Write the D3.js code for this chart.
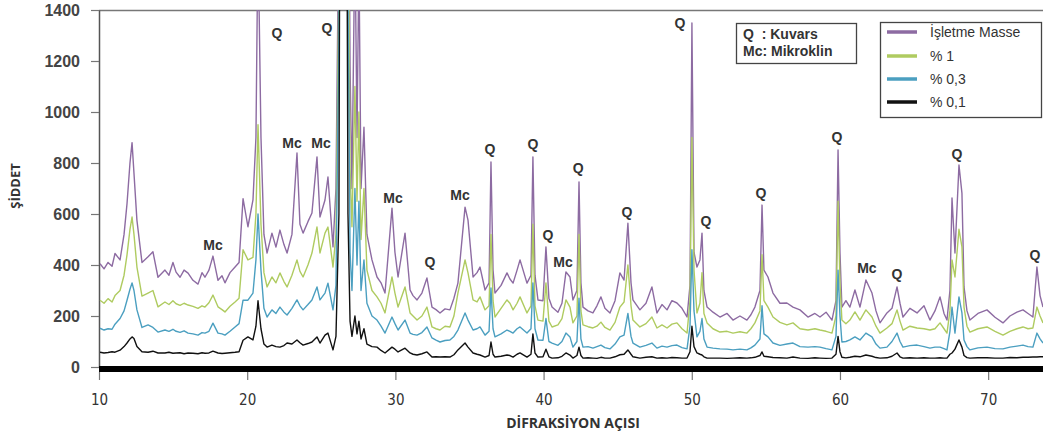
<!DOCTYPE html>
<html>
<head>
<meta charset="utf-8">
<script src="https://cdn.jsdelivr.net/npm/d3@7"></script>
<style>
body { margin: 0; background: #fff; }
svg { display: block; }
</style>
</head>
<body>
<svg id="chart" width="1043" height="434"></svg>
<script>
// diffraction angle (2 theta) of each sample point
var angles = [
  10.07, 10.34, 10.61, 10.88, 11.08, 11.42, 11.69, 11.89, 12.09, 12.23,
  12.36, 12.56, 12.90, 13.31, 13.64, 13.98, 14.45, 14.72, 14.99, 15.20,
  15.47, 15.74, 16.01, 16.34, 16.68, 16.95, 17.15, 17.42, 17.69, 18.03,
  18.30, 18.50, 18.84, 19.18, 19.45, 19.72, 20.05, 20.39, 20.59, 20.73,
  20.93, 21.13, 21.34, 21.67, 21.94, 22.21, 22.48, 22.69, 23.02, 23.36,
  23.56, 23.77, 24.10, 24.37, 24.71, 24.91, 25.25, 25.45, 25.79, 25.99,
  26.19, 26.40, 26.60, 26.80, 26.94, 27.07, 27.27, 27.41, 27.54, 27.68,
  27.88, 28.08, 28.42, 28.76, 29.03, 29.30, 29.77, 29.97, 30.18, 30.65,
  30.99, 31.19, 31.46, 31.79, 32.13, 32.47, 32.74, 33.01, 33.35, 33.68,
  33.95, 34.22, 34.70, 34.90, 35.24, 35.51, 35.71, 36.05, 36.32, 36.45,
  36.59, 36.72, 37.13, 37.53, 37.73, 37.94, 38.21, 38.41, 38.88, 39.15,
  39.28, 39.42, 39.62, 39.96, 40.16, 40.36, 40.57, 40.97, 41.24, 41.51,
  41.78, 41.98, 42.25, 42.39, 42.52, 42.66, 43.00, 43.33, 43.60, 43.87,
  44.14, 44.48, 44.82, 45.15, 45.43, 45.69, 45.90, 46.03, 46.50, 46.91,
  47.31, 47.65, 47.99, 48.33, 48.66, 49.00, 49.34, 49.68, 49.88, 50.01,
  50.15, 50.35, 50.55, 50.69, 50.82, 51.03, 51.43, 51.90, 52.38, 52.78,
  53.25, 53.72, 53.99, 54.26, 54.60, 54.74, 54.87, 55.14, 55.48, 55.95,
  56.42, 56.83, 57.30, 57.84, 58.31, 58.65, 59.06, 59.46, 59.73, 59.87,
  60.00, 60.13, 60.40, 60.67, 61.01, 61.35, 61.75, 62.16, 62.43, 62.70,
  63.17, 63.51, 63.85, 64.05, 64.25, 64.72, 65.20, 65.67, 66.07, 66.41,
  66.75, 67.02, 67.22, 67.42, 67.56, 67.76, 68.03, 68.23, 68.37, 68.57,
  68.77, 69.31, 69.92, 70.46, 71.00, 71.47, 71.94, 72.35, 72.69, 73.02,
  73.29, 73.50, 73.70
];

var isletmeMasse = [
  405, 385, 410, 395, 445, 420, 520, 640, 800, 880,
  760, 575, 410, 432, 452, 352, 380, 360, 410, 372,
  352, 380, 368, 340, 325, 370, 352, 380, 435, 340,
  358, 330, 370, 392, 410, 660, 550, 655, 900, 1700,
  900, 520, 447, 525, 470, 537, 480, 447, 520, 839,
  560, 525, 570, 604, 824, 588, 655, 745, 471, 700,
  1800, 9000, 8000, 2500, 1180, 700, 1700, 900, 1600, 700,
  940, 520, 420, 353, 330, 290, 623, 450, 353, 525,
  302, 280, 263, 290, 349, 235, 225, 212, 228, 224,
  270, 329, 627, 576, 353, 370, 392, 302, 330, 804,
  380, 290, 320, 369, 345, 329, 380, 420, 329, 360,
  824, 360, 263, 260, 471, 270, 235, 215, 250, 373,
  353, 263, 300, 726, 330, 235, 220, 212, 240, 275,
  230, 212, 260, 369, 341, 564, 330, 263, 224, 250,
  314, 212, 245, 224, 260, 251, 230, 196, 320, 1349,
  450, 392, 420, 525, 300, 235, 215, 196, 210, 184,
  200, 184, 205, 235, 300, 635, 380, 353, 290, 250,
  251, 235, 224, 196, 210, 196, 215, 184, 260, 851,
  450, 235, 260, 235, 302, 235, 341, 290, 220, 173,
  212, 230, 314, 250, 196, 230, 212, 240, 184, 220,
  275, 210, 184, 300, 663, 447, 792, 682, 314, 220,
  184, 210, 224, 195, 173, 200, 215, 224, 210, 196,
  392, 280, 235
];

var yuzde1 = [
  262, 250, 268, 255, 280, 300, 360, 440, 540, 588,
  520, 392, 278, 290, 300, 236, 255, 245, 260, 248,
  242, 250, 243, 238, 230, 240, 235, 252, 282, 236,
  225, 216, 238, 255, 270, 460, 420, 430, 600, 950,
  560, 370, 314, 353, 330, 369, 335, 314, 360, 420,
  375, 353, 400, 447, 549, 447, 525, 549, 392, 520,
  1500, 8000, 7000, 2000, 780, 550, 1100, 650, 1000, 500,
  700, 380, 300, 275, 250, 212, 353, 290, 235, 314,
  212, 200, 184, 200, 235, 157, 150, 145, 160, 157,
  200, 290, 420, 369, 263, 255, 275, 224, 240, 520,
  260, 196, 230, 263, 250, 224, 250, 275, 212, 240,
  560, 240, 184, 180, 330, 180, 157, 165, 190, 263,
  235, 173, 200, 520, 220, 165, 158, 153, 160, 176,
  155, 145, 175, 235, 255, 400, 240, 184, 157, 170,
  196, 153, 165, 153, 168, 173, 150, 133, 260, 900,
  380, 212, 250, 370, 210, 173, 150, 137, 140, 133,
  138, 133, 150, 173, 220, 440, 260, 235, 196, 175,
  165, 173, 150, 145, 150, 145, 140, 133, 200, 650,
  330, 184, 170, 184, 216, 184, 224, 196, 160, 133,
  153, 170, 224, 180, 145, 160, 153, 150, 145, 150,
  173, 150, 133, 220, 420, 353, 540, 471, 235, 160,
  137, 150, 157, 140, 125, 140, 150, 157, 150, 153,
  235, 200, 173
];

var yuzde03 = [
  152, 145, 150, 148, 168, 190, 220, 262, 305, 330,
  300, 224, 155, 165, 155, 137, 145, 140, 148, 140,
  136, 142, 133, 130, 125, 135, 133, 140, 172, 133,
  130, 125, 140, 157, 170, 262, 262, 290, 420, 600,
  380, 230, 196, 224, 210, 235, 215, 204, 230, 263,
  240, 224, 245, 263, 314, 263, 290, 329, 224, 320,
  1300, 7000, 6000, 1500, 450, 300, 700, 400, 650, 300,
  420, 250, 200, 184, 160, 133, 196, 170, 145, 184,
  133, 128, 125, 135, 157, 114, 105, 98, 104, 106,
  120, 145, 212, 184, 145, 150, 157, 125, 140, 310,
  150, 118, 130, 145, 140, 133, 150, 157, 133, 150,
  330, 150, 106, 105, 190, 100, 94, 85, 100, 133,
  118, 78, 100, 270, 110, 78, 80, 74, 80, 86,
  76, 71, 90, 118, 125, 210, 120, 94, 78, 85,
  94, 74, 82, 78, 84, 86, 76, 71, 160, 460,
  220, 118, 140, 190, 110, 78, 74, 71, 70, 67,
  70, 67, 75, 86, 110, 240, 130, 118, 94, 85,
  90, 94, 80, 78, 80, 78, 72, 67, 120, 380,
  200, 98, 100, 106, 118, 106, 133, 118, 90, 74,
  78, 100, 133, 100, 78, 84, 86, 80, 74, 78,
  78, 72, 67, 140, 235, 133, 275, 212, 106, 80,
  67, 75, 78, 72, 71, 78, 82, 86, 80, 78,
  133, 110, 94
];

var yuzde01 = [
  58, 55, 57, 60, 58, 66, 80, 94, 110, 118,
  112, 80, 60, 58, 62, 55, 55, 58, 54, 55,
  56, 52, 55, 54, 52, 56, 54, 55, 62, 55,
  53, 54, 56, 58, 60, 105, 118, 106, 160, 260,
  150, 90, 78, 86, 80, 78, 84, 94, 90, 106,
  95, 86, 92, 98, 118, 94, 125, 133, 67, 120,
  600, 5000, 4000, 600, 180, 120, 200, 130, 180, 110,
  150, 90, 80, 78, 65, 55, 78, 70, 59, 74,
  55, 50, 47, 52, 59, 39, 40, 39, 40, 39,
  48, 67, 94, 78, 55, 50, 47, 39, 45, 98,
  50, 39, 42, 47, 45, 39, 50, 55, 39, 50,
  130, 55, 39, 40, 70, 40, 35, 36, 42, 55,
  47, 35, 45, 78, 45, 35, 36, 35, 34, 38,
  35, 35, 40, 48, 50, 67, 50, 40, 35, 38,
  40, 35, 36, 35, 37, 36, 35, 35, 60, 160,
  80, 55, 50, 47, 40, 35, 35, 35, 34, 35,
  36, 35, 36, 38, 45, 59, 42, 40, 37, 36,
  35, 39, 35, 34, 36, 35, 34, 35, 50, 120,
  60, 38, 36, 38, 42, 40, 47, 42, 37, 35,
  36, 42, 55, 40, 35, 36, 35, 36, 35, 35,
  36, 35, 35, 50, 55, 70, 106, 78, 45, 37,
  35, 36, 36, 35, 35, 37, 36, 38, 38, 39,
  39, 40, 40
];

var seriesNames = ["İşletme Masse", "% 1", "% 0,3", "% 0,1"];
var xTicks = [10, 20, 30, 40, 50, 60, 70];
var yTicks = [0, 200, 400, 600, 800, 1000, 1200, 1400];

// phase labels above the peaks
var peakLabels = ["Mc", "Q", "Q", "Mc", "Mc", "Mc", "Q", "Mc", "Q", "Q", "Q", "Mc",
                  "Q", "Q", "Q", "Q", "Q", "Q", "Mc", "Q", "Q", "Q"];
var peakAngles = [17.69, 22.01, 25.38, 23.03, 24.98, 29.84, 32.33, 34.36, 36.38, 39.28, 40.30, 41.31,
                  42.33, 45.63, 49.20, 50.96, 54.67, 59.80, 61.82, 63.85, 67.89, 73.16];
var peakHeights = [478, 1310, 1329, 878, 878, 663, 412, 675, 855, 875, 518, 412,
                   780, 608, 1349, 573, 682, 902, 388, 365, 835, 439];

var colors = ["#8d6ba2", "#afcb60", "#4b9fc0", "#111111"];

var svg = d3.select("#chart");
var x = d3.scaleLinear().domain([10, 73.7]).range([99, 1043]);
var y = d3.scaleLinear().domain([0, 1400]).range([367, 10]);

svg.append("defs").append("clipPath").attr("id", "plotClip")
  .append("rect").attr("x", 99).attr("y", 10).attr("width", 944).attr("height", 357);

// frame top line
svg.append("line")
  .attr("x1", 99).attr("x2", 1043).attr("y1", 10.5).attr("y2", 10.5)
  .attr("stroke", "#777").attr("stroke-width", 1.5);

// y axis
var yAxis = svg.append("g").attr("transform", "translate(99,0)")
  .call(d3.axisLeft(y).tickValues(yTicks).tickSize(8).tickPadding(11).tickSizeOuter(0)
    .tickFormat(d3.format("d")));
yAxis.select(".domain").attr("stroke", "#555").attr("stroke-width", 1.5);
yAxis.selectAll(".tick line").attr("stroke", "#777").attr("stroke-width", 1.2);
yAxis.selectAll("text")
  .attr("fill", "#444")
  .style("font-family", "'Liberation Sans', Arial, sans-serif")
  .style("font-weight", "bold")
  .style("font-size", "16px");

// x axis
var xAxis = svg.append("g").attr("transform", "translate(0,372)")
  .call(d3.axisBottom(x).tickValues(xTicks).tickSize(8).tickPadding(14).tickFormat(d3.format("d")));
xAxis.select(".domain").remove();
xAxis.selectAll(".tick line").attr("stroke", "#777").attr("stroke-width", 1.2);
xAxis.selectAll("text")
  .attr("fill", "#333")
  .style("font-family", "'DejaVu Sans Condensed', 'Liberation Sans', Arial, sans-serif")
  .style("font-size", "15px");

// thick base bar
svg.append("line")
  .attr("x1", 99).attr("x2", 1043).attr("y1", 369).attr("y2", 369)
  .attr("stroke", "#000").attr("stroke-width", 6);

// axis titles
svg.append("text")
  .attr("x", 573).attr("y", 428)
  .attr("text-anchor", "middle")
  .attr("fill", "#333")
  .style("font-family", "'Open Sans', Arial, sans-serif")
  .style("font-weight", "bold")
  .style("font-size", "14px")
  .text("DİFRAKSİYON AÇISI");

svg.append("text")
  .attr("transform", "translate(20,186) rotate(-90)")
  .attr("text-anchor", "middle")
  .attr("fill", "#333")
  .style("font-family", "'Open Sans', Arial, sans-serif")
  .style("font-weight", "bold")
  .style("font-size", "13px")
  .text("ŞİDDET");

// series lines
var allSeries = [isletmeMasse, yuzde1, yuzde03, yuzde01];
var line = d3.line()
  .x(function(d) { return x(d[0]); })
  .y(function(d) { return y(d[1]); });

var plot = svg.append("g").attr("clip-path", "url(#plotClip)");
allSeries.forEach(function(values, i) {
  var pts = angles.map(function(a, j) { return [a, values[j]]; });
  plot.append("path")
    .datum(pts)
    .attr("d", line)
    .attr("fill", "none")
    .attr("stroke", colors[i])
    .attr("stroke-width", 1.4)
    .attr("stroke-linejoin", "round");
});

// peak labels
svg.append("g").selectAll("text")
  .data(peakLabels)
  .enter().append("text")
  .attr("x", function(d, i) { return x(peakAngles[i]); })
  .attr("y", function(d, i) { return y(peakHeights[i]); })
  .attr("dy", "0.35em")
  .attr("text-anchor", "middle")
  .attr("fill", "#333")
  .style("font-family", "'Liberation Sans', Arial, sans-serif")
  .style("font-weight", "bold")
  .style("font-size", "14px")
  .text(function(d) { return d; });

// phase key box
var key = svg.append("g");
key.append("rect")
  .attr("x", 736.5).attr("y", 23.5).attr("width", 120).attr("height", 40)
  .attr("fill", "#fff").attr("stroke", "#444").attr("stroke-width", 1.3);
key.selectAll("text")
  .data(["Q  : Kuvars", "Mc: Mikroklin"])
  .enter().append("text")
  .attr("x", 743)
  .attr("y", function(d, i) { return 39 + i * 17; })
  .attr("fill", "#333")
  .attr("xml:space", "preserve")
  .style("white-space", "pre")
  .style("font-family", "'Liberation Sans', Arial, sans-serif")
  .style("font-weight", "bold")
  .style("font-size", "14px")
  .text(function(d) { return d; });

// series legend
var legend = svg.append("g");
legend.append("rect")
  .attr("x", 880.5).attr("y", 22.5).attr("width", 161).attr("height", 95)
  .attr("fill", "#fff").attr("stroke", "#444").attr("stroke-width", 1.3);
var rows = legend.selectAll("g.row")
  .data(seriesNames)
  .enter().append("g")
  .attr("class", "row")
  .attr("transform", function(d, i) { return "translate(0," + [32, 56, 79, 102][i] + ")"; });
rows.append("line")
  .attr("x1", 887).attr("x2", 917)
  .attr("stroke", function(d, i) { return colors[i]; })
  .attr("stroke-width", 3.5);
rows.append("text")
  .attr("x", 930).attr("dy", "0.35em")
  .attr("fill", "#333")
  .style("font-family", "'Liberation Sans', Arial, sans-serif")
  .style("font-size", "14px")
  .text(function(d) { return d; });
</script>
</body>
</html>
